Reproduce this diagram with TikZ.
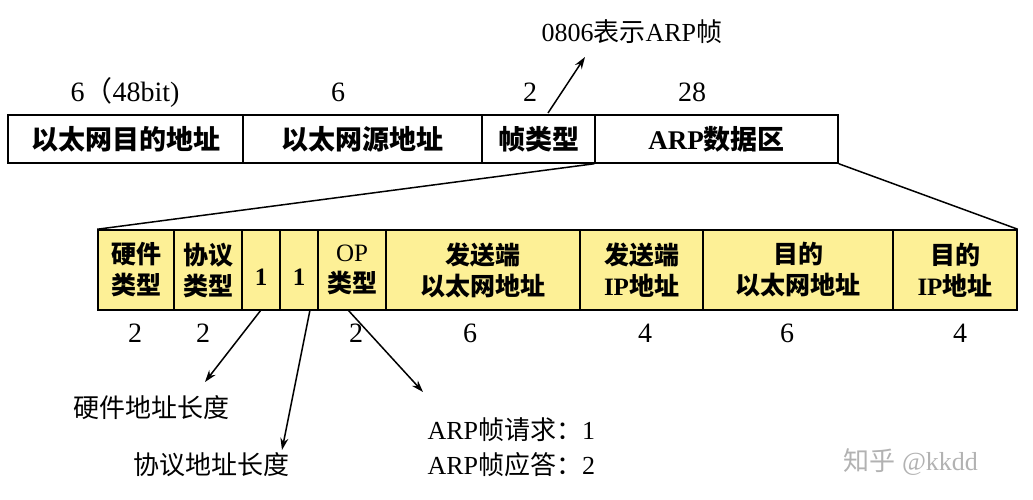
\documentclass[tikz,border=0pt]{standalone}
\usepackage{fontspec}
\setmainfont{Liberation Serif}
\newfontfamily\cjk{Noto Sans CJK SC}
\newcommand{\zh}[1]{{\cjk #1}}
\usetikzlibrary{arrows.meta}
\definecolor{fieldyellow}{RGB}{253,240,150}
\begin{document}
\begin{tikzpicture}[x=1pt,y=-1pt,
  field/.style={draw,line width=1.5pt,inner sep=0pt,font=\fontsize{27}{30}\selectfont\bfseries},
  subfield/.style={field,fill=fieldyellow,align=center,font=\fontsize{25}{31}\selectfont\bfseries},
  size/.style={font=\fontsize{28}{30}\selectfont},
  note/.style={font=\fontsize{26}{30}\selectfont,anchor=west},
  pointer/.style={line width=1.5pt,-{Stealth[length=12pt,width=8pt]}}]
\useasboundingbox (0,0) rectangle (1033,500);
% ethernet frame
\node (dst) [field,minimum width=235pt,minimum height=48pt] at (125.5,139) {\zh{以太网目的地址}};
\node (src) [field,minimum width=239pt,minimum height=48pt] at (362.5,139) {\zh{以太网源地址}};
\node (typ) [field,minimum width=113pt,minimum height=48pt] at (538.5,139) {\zh{帧类型}};
\node (arp) [field,minimum width=243pt,minimum height=48pt] at (716.5,139) {ARP\zh{数据区}};
\node [size] at (125,92) {6\zh{（}48bit)};
\node [size] at (338,92) {6};
\node [size] at (530,92) {2};
\node [size] at (692,92) {28};
\node (typnote) [note] at (538,32) {0806\zh{表示}ARP\zh{帧}};
\draw [pointer] (548,113) -- (585,57);
% arp packet
\node (hw) [subfield,minimum width=76pt,minimum height=80pt] at (136,270) {\zh{硬件}\\\zh{类型}};
\node (pr) [subfield,minimum width=68pt,minimum height=80pt] at (208,270) {\zh{协议}\\\zh{类型}};
\node (hl) [subfield,minimum width=38pt,minimum height=80pt] at (261,270) {\\1};
\node (pl) [subfield,minimum width=38pt,minimum height=80pt] at (299,270) {\\1};
\node (op) [subfield,minimum width=68pt,minimum height=80pt] at (352,270) {\mdseries OP\\\zh{类型}};
\node (sha) [subfield,minimum width=194pt,minimum height=80pt] at (483,270) {\zh{发送端}\\\zh{以太网地址}};
\node (spa) [subfield,minimum width=123pt,minimum height=80pt] at (641.5,270) {\zh{发送端}\\IP\zh{地址}};
\node (tha) [subfield,minimum width=190pt,minimum height=80pt] at (798,270) {\zh{目的}\\\zh{以太网地址}};
\node (tpa) [subfield,minimum width=124pt,minimum height=80pt] at (955,270) {\zh{目的}\\IP\zh{地址}};
\draw [line width=1.5pt] (arp.south west) -- (hw.north west);
\draw [line width=1.5pt] (arp.south east) -- (tpa.north east);
\foreach \x/\v in {135/2,203/2,356/2,470/6,645/4,787/6,960/4}
  \node [size] at (\x,333) {\v};
% notes
\node (hlnote) [note] at (70,408) {\zh{硬件地址长度}};
\node (plnote) [note] at (130,465) {\zh{协议地址长度}};
\node (opreq) [note] at (424,430) {ARP\zh{帧请求：}1};
\node (oprep) [note] at (424,465) {ARP\zh{帧应答：}2};
\draw [pointer] (261,310) -- (205,382);
\draw [pointer] (310,310) -- (282,450);
\draw [pointer] (348,310) -- (423,392);
\node [note,text=gray!60] at (840,462) {\zh{知乎} @kkdd};
\end{tikzpicture}
\end{document}
